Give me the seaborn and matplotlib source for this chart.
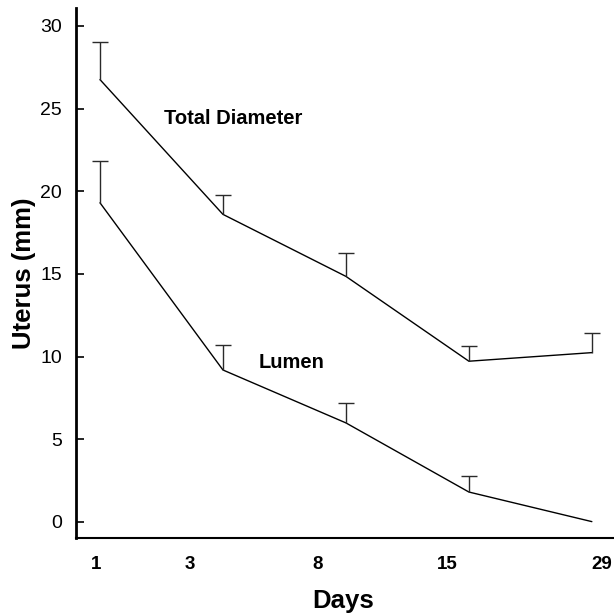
import matplotlib
matplotlib.use("Agg")
import matplotlib.pyplot as plt
import seaborn as sns
import pandas as pd

# values
day_labels = ["1", "3", "8", "15", "29"]
label_pos = [-0.03, 0.73, 1.77, 2.82, 4.08]
point_idx = [0, 1, 2, 3, 4]
total_mean = [26.75, 18.6, 14.85, 9.72, 10.24]
total_err = [2.28, 1.2, 1.43, 0.92, 1.16]
lumen_mean = [19.3, 9.19, 5.99, 1.81, 0.02]
lumen_err = [2.53, 1.53, 1.21, 0.97, 0.0]

sns.set_theme(style="ticks", rc={
    "text.color": "black", "axes.labelcolor": "black",
    "xtick.color": "black", "ytick.color": "black", "axes.edgecolor": "black",
})
plt.rcParams["font.family"] = ["Liberation Sans", "DejaVu Sans"]

df = pd.DataFrame({
    "idx": point_idx * 2,
    "value": total_mean + lumen_mean,
    "series": ["Total Diameter"] * 5 + ["Lumen"] * 5,
})

fig = plt.figure(figsize=(6.14, 6.15), dpi=100)
ax = fig.add_axes([0.1238, 0.1252, 0.8762, 0.8618])

sns.lineplot(data=df, x="idx", y="value", units="series", estimator=None,
             color="black", linewidth=1.0, ax=ax, legend=False)

# upward-only error bars (skip points without an error)
for mean, err in [(total_mean, total_err), (lumen_mean, lumen_err)]:
    xs = [i for i, e in zip(point_idx, err) if e > 0]
    ys = [m for m, e in zip(mean, err) if e > 0]
    es = [e for e in err if e > 0]
    eb = ax.errorbar(xs, ys, yerr=[[0] * len(es), es], fmt="none",
                     ecolor="#2a2a2a", elinewidth=1.0, capsize=5.5, capthick=1.0)
    eb.lines[1][0].set_visible(False)

ax.set_xlim(-0.195, 4.18)
ax.set_ylim(-0.97, 31.08)
ax.set_yticks([0, 5, 10, 15, 20, 25, 30])
ax.set_xticks(label_pos)
ax.set_xticklabels(day_labels, fontweight="bold")
ax.tick_params(axis="x", length=0, pad=13, labelsize=13.5)
ax.tick_params(axis="y", length=6, width=1.2, pad=10, labelsize=14, direction="in")

ax.spines["left"].set_linewidth(2.0)
ax.spines["bottom"].set_linewidth(1.5)
sns.despine(ax=ax)

ax.set_xlabel("Days", fontsize=18.5, fontweight="bold", va="center")
ax.set_ylabel("Uterus (mm)", fontsize=18.5, fontweight="bold", va="center")
ax.xaxis.set_label_coords(0.496, -0.118)
ax.yaxis.set_label_coords(-0.097, 0.5)

ax.text(1.08, 24.4, "Total Diameter", fontsize=14.5, fontweight="bold",
        ha="center", va="center")
ax.text(1.29, 9.66, "Lumen", fontsize=14.5, fontweight="bold",
        ha="left", va="center")

fig.savefig("out.png", dpi=100)
